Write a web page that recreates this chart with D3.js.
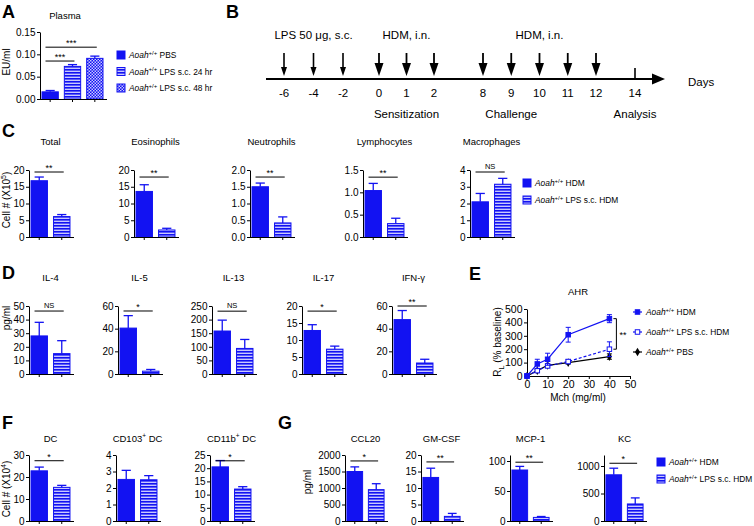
<!DOCTYPE html>
<html><head><meta charset="utf-8">
<script src="https://cdn.jsdelivr.net/npm/d3@7"></script>
<style>
body{margin:0;background:#fff;}
svg{font-family:"Liberation Sans",Arial,sans-serif;}
</style></head><body>
<svg id="fig" width="754" height="526"></svg>
<script>
// ---------------- DATA ----------------
// Panel A (plasma endotoxin)
const aGroups = ["PBS", "LPS s.c. 24 hr", "LPS s.c. 48 hr"];
const aMeans = [0.016, 0.073, 0.091];
const aSems = [0.003, 0.004, 0.005];
const aSigPairs = [[0, 1], [0, 2]];
const aSigLevels = [0.085, 0.116];
const aSigText = ["***", "***"];
const aTicks = [0, 0.05, 0.10, 0.15];

// Panel B (protocol timeline)
const bDays = [-6, -4, -2, 0, 1, 2, 8, 9, 10, 11, 12, 14];
const bLpsDays = [-6, -4, -2];
const bHdmDays = [0, 1, 2, 8, 9, 10, 11, 12];
const bAnalysisDay = 14;
const bTreatLabels = ["LPS 50 \u03bcg, s.c.", "HDM, i.n.", "HDM, i.n."];
const bTreatDays = [-4, 1, 10];
const bPhaseLabels = ["Sensitization", "Challenge", "Analysis"];
const bPhaseDays = [1, 9, 14];

// Panel C (BAL cells, x10^5)
const cCells = ["Total", "Eosinophils", "Neutrophils", "Lymphocytes", "Macrophages"];
const cHdmMean = [16.8, 13.6, 1.50, 1.04, 2.1];
const cHdmSem = [1.1, 2.0, 0.11, 0.16, 0.5];
const cLpsMean = [6.1, 2.1, 0.42, 0.30, 3.15];
const cLpsSem = [0.6, 0.5, 0.18, 0.12, 0.35];
const cSig = ["**", "**", "**", "**", "NS"];
const cSigLevel = [19.4, 17.9, 1.79, 1.34, 3.88];
const cYMax = [20, 20, 2.0, 1.5, 4];
const cYStep = [5, 5, 0.5, 0.5, 1];

// Panel D (cytokines, pg/ml)
const dCytokines = ["IL-4", "IL-5", "IL-13", "IL-17", "IFN-\u03b3"];
const dHdmMean = [28, 40.5, 158, 12.8, 48];
const dHdmSem = [10, 11, 40, 1.7, 8];
const dLpsMean = [15, 2.5, 94, 7.3, 9.7];
const dLpsSem = [9.5, 1.5, 33, 0.9, 3.3];
const dSig = ["NS", "*", "NS", "*", "**"];
const dSigLevel = [46.3, 55.6, 231, 18.5, 60];
const dYMax = [50, 60, 250, 20, 60];
const dYStep = [10, 20, 50, 5, 20];

// Panel E (AHR)
const eDoses = [0, 5, 10, 20, 40];
const eHdm = [0, 90, 125, 308, 428];
const eHdmSem = [0, 35, 45, 55, 30];
const eLps = [0, 40, 75, 108, 200];
const eLpsSem = [0, 10, 12, 15, 55];
const ePbs = [0, 40, 80, 100, 145];
const ePbsSem = [0, 8, 10, 10, 20];
const eXTicks = [0, 10, 20, 30, 40, 50];
const eYTicks = [0, 100, 200, 300, 400, 500];

// Panel F (lung DC, x10^4)
const fCells = ["DC", "CD103", "CD11b"];
const fHdmMean = [22.8, 2.52, 20.5];
const fHdmSem = [1.7, 0.55, 2.4];
const fLpsMean = [15.3, 2.5, 12.1];
const fLpsSem = [0.9, 0.25, 0.9];
const fSig = ["*", "", "*"];
const fSigLevel = [27.4, 0, 22.8];
const fYMax = [30, 4, 25];
const fYStep = [10, 1, 5];

// Panel G (chemokines, pg/ml)
const gCytokines = ["CCL20", "GM-CSF", "MCP-1", "KC"];
const gHdmMean = [1500, 13.2, 85, 840];
const gHdmSem = [140, 2.8, 6, 120];
const gLpsMean = [950, 1.4, 6, 310];
const gLpsSem = [180, 0.9, 1.5, 110];
const gSig = ["*", "**", "**", "*"];
const gSigLevel = [1820, 17.9, 98, 1050];
const gYMax = [2000, 20, 110, 1200];
const gTicks = [[0, 500, 1000, 1500, 2000], [0, 5, 10, 15, 20], [0, 50, 100], [0, 500, 1000]];

// ---------------- STYLE / LAYOUT ----------------
const BLUE = "#1212f2";
const LIGHT = "#c8c8ff";
const LEG = 8.4;
const svg = d3.select("#fig");
const defs = svg.append("defs");
const ps = defs.append("pattern").attr("id", "hstripe").attr("patternUnits", "userSpaceOnUse")
  .attr("width", 6).attr("height", 3);
ps.append("rect").attr("width", 6).attr("height", 3).attr("fill", LIGHT);
ps.append("rect").attr("width", 6).attr("height", 1.6).attr("fill", BLUE);
const pc = defs.append("pattern").attr("id", "checker").attr("patternUnits", "userSpaceOnUse")
  .attr("width", 3).attr("height", 3);
pc.append("rect").attr("width", 3).attr("height", 3).attr("fill", BLUE);
pc.append("rect").attr("width", 1.5).attr("height", 1.5).attr("fill", LIGHT);
pc.append("rect").attr("x", 1.5).attr("y", 1.5).attr("width", 1.5).attr("height", 1.5).attr("fill", LIGHT);

const FILLS = [BLUE, "url(#hstripe)", "url(#checker)"];

function letter(t, x, y) {
  svg.append("text").attr("x", x).attr("y", y).attr("font-size", 18).attr("font-weight", "bold").text(t);
}
function fmtFor(step) {
  return step < 1 ? d3.format(".1f") : d3.format("d");
}
function aoah(sel, rest, size) {
  sel.append("tspan").attr("font-style", "italic").text("Aoah");
  sel.append("tspan").attr("font-size", size * 0.72).attr("dy", -size * 0.4).text("+/+");
  sel.append("tspan").attr("dy", size * 0.4).text(" " + rest);
}
function sigMark(g, x1, x2, yv, txt) {
  if (!txt) return;
  g.append("line").attr("x1", x1).attr("x2", x2).attr("y1", yv).attr("y2", yv)
    .attr("stroke", "#000").attr("stroke-width", 1);
  const isNS = txt === "NS";
  g.append("text").attr("x", (x1 + x2) / 2).attr("y", isNS ? yv - 3 : yv - 1)
    .attr("text-anchor", "middle").attr("font-size", isNS ? 7.5 : 9).text(txt);
}

// generic bar panel
function barPanel(o) {
  const g = svg.append("g");
  const n = o.means.length;
  const x = d3.scaleBand().domain(d3.range(n)).range([o.x0, o.x0 + o.w])
    .paddingInner(0.27).paddingOuter(0.09);
  const y = d3.scaleLinear().domain([0, o.yMax]).range([o.yBot, o.yTop]);
  const bw = x.bandwidth();
  g.selectAll("rect.bar").data(o.means).join("rect").attr("class", "bar")
    .attr("x", (d, i) => x(i)).attr("y", d => y(d))
    .attr("width", bw).attr("height", d => y(0) - y(d))
    .attr("fill", (d, i) => FILLS[i]).attr("stroke", BLUE).attr("stroke-width", 1);
  o.means.forEach((m, i) => {
    const cx = x(i) + bw / 2;
    g.append("line").attr("x1", cx).attr("x2", cx).attr("y1", y(m)).attr("y2", y(m + o.sems[i]))
      .attr("stroke", BLUE).attr("stroke-width", 1.3);
    g.append("line").attr("x1", cx - bw * 0.28).attr("x2", cx + bw * 0.28)
      .attr("y1", y(m + o.sems[i])).attr("y2", y(m + o.sems[i]))
      .attr("stroke", BLUE).attr("stroke-width", 1.3);
  });
  const ya = g.append("g").attr("transform", `translate(${o.x0},0)`)
    .call(d3.axisLeft(y).tickValues(o.ticks).tickFormat(o.fmt).tickSize(3).tickSizeOuter(0).tickPadding(1.5));
  ya.selectAll("text").attr("font-size", 10).attr("font-family", "Liberation Sans, Arial, sans-serif");
  const xa = g.append("g").attr("transform", `translate(0,${o.yBot})`)
    .call(d3.axisBottom(x).tickSize(3).tickSizeOuter(0).tickFormat(""));
  xa.select(".domain").attr("d", `M${o.x0},0.5H${o.x0 + o.w + 2}`);
  if (o.title) {
    const t = g.append("text").attr("x", o.tx !== undefined ? o.tx : o.x0 + o.w / 2)
      .attr("y", o.titleY).attr("text-anchor", "middle").attr("font-size", 9.5);
    o.title(t);
  }
  if (o.sig) {
    o.sig.forEach(s => {
      sigMark(g, x(s.a) + 3.5, x(s.b) + bw * 0.62, y(s.level), s.text);
    });
  }
  return { x, y };
}

function ylabel(x, y, build, size) {
  const t = svg.append("text").attr("transform", `translate(${x},${y}) rotate(-90)`)
    .attr("text-anchor", "middle").attr("font-size", size || 10);
  build(t);
}
function legendBox(x, y, fill, build, size) {
  svg.append("rect").attr("x", x).attr("y", y - 4).attr("width", 8).attr("height", 8)
    .attr("fill", fill).attr("stroke", BLUE).attr("stroke-width", 1);
  const t = svg.append("text").attr("x", x + 12).attr("y", y + 3.2).attr("font-size", size || LEG);
  build(t);
}

// ---------------- PANEL A ----------------
letter("A", 2, 18);
barPanel({
  x0: 40, w: 65, yTop: 32, yBot: 99, yMax: 0.15, ticks: aTicks, fmt: d3.format(".2f"),
  means: aMeans, sems: aSems, titleY: 19, tx: 65,
  title: t => t.text("Plasma"),
  sig: aSigPairs.map((p, i) => ({ a: p[0], b: p[1], level: aSigLevels[i], text: aSigText[i] }))
});
ylabel(10, 62, t => t.text("EU/ml"));
aGroups.forEach((gname, i) => legendBox(117, 55 + i * 16.5, FILLS[i], t => aoah(t, gname, LEG)));

// ---------------- PANEL B ----------------
letter("B", 226, 18);
const tx = d3.scaleLinear().domain([-6, -2, 0, 2, 8, 12, 14]).range([284, 343, 379, 434, 483, 596, 635]);
const gb = svg.append("g");
gb.append("line").attr("x1", 266).attr("x2", 654).attr("y1", 79).attr("y2", 79)
  .attr("stroke", "#000").attr("stroke-width", 2);
gb.append("path").attr("d", "M652,73.5L665,79L652,84.5Z").attr("fill", "#000");
bLpsDays.forEach(d => {
  const xx = tx(d);
  gb.append("line").attr("x1", xx).attr("x2", xx).attr("y1", 53).attr("y2", 70).attr("stroke", "#000").attr("stroke-width", 1.6);
  gb.append("path").attr("d", `M${xx - 3},67L${xx + 3},67L${xx},76Z`).attr("fill", "#000");
});
bHdmDays.forEach(d => {
  const xx = tx(d);
  gb.append("line").attr("x1", xx).attr("x2", xx).attr("y1", 53).attr("y2", 66).attr("stroke", "#000").attr("stroke-width", 1.8);
  gb.append("path").attr("d", `M${xx - 4.5},63L${xx + 4.5},63L${xx},76Z`).attr("fill", "#000");
});
gb.append("line").attr("x1", tx(bAnalysisDay)).attr("x2", tx(bAnalysisDay)).attr("y1", 68).attr("y2", 79)
  .attr("stroke", "#000").attr("stroke-width", 1.6);
bDays.forEach(d => {
  gb.append("text").attr("x", tx(d)).attr("y", 97).attr("text-anchor", "middle").attr("font-size", 11.5).text(d);
});
bTreatLabels.forEach((l, i) => {
  gb.append("text").attr("x", tx(bTreatDays[i])).attr("y", 39).attr("text-anchor", "middle").attr("font-size", 11.5).text(l);
});
bPhaseLabels.forEach((l, i) => {
  gb.append("text").attr("x", tx(bPhaseDays[i])).attr("y", 118).attr("text-anchor", "middle").attr("font-size", 11.5).text(l);
});
gb.append("text").attr("x", 688).attr("y", 86).attr("font-size", 11.5).text("Days");

// ---------------- PANEL C ----------------
letter("C", 2, 137);
const cAxisX = [29, 134, 250, 363, 470];
cCells.forEach((c, i) => {
  const ticks = d3.range(0, cYMax[i] + 1e-9, cYStep[i]);
  barPanel({
    x0: cAxisX[i], w: 43, yTop: 170, yBot: 237, yMax: cYMax[i], ticks, fmt: fmtFor(cYStep[i]),
    means: [cHdmMean[i], cLpsMean[i]], sems: [cHdmSem[i], cLpsSem[i]], titleY: 145,
    title: t => t.text(c),
    sig: [{ a: 0, b: 1, level: cSigLevel[i], text: cSig[i] }]
  });
});
ylabel(10, 200, t => {
  t.append("tspan").text("Cell # (X10");
  t.append("tspan").attr("font-size", 7).attr("dy", -4).text("5");
  t.append("tspan").attr("dy", 4).text(")");
});
legendBox(523, 183, FILLS[0], t => aoah(t, "HDM", LEG));
legendBox(523, 200, FILLS[1], t => aoah(t, "LPS s.c. HDM", LEG));

// ---------------- PANEL D ----------------
letter("D", 2, 279);
const dAxisX = [29, 118, 212, 302, 392];
dCytokines.forEach((c, i) => {
  const ticks = d3.range(0, dYMax[i] + 1e-9, dYStep[i]);
  barPanel({
    x0: dAxisX[i], w: 43, yTop: 306, yBot: 374, yMax: dYMax[i], ticks, fmt: fmtFor(dYStep[i]),
    means: [dHdmMean[i], dLpsMean[i]], sems: [dHdmSem[i], dLpsSem[i]], titleY: 281,
    title: t => t.text(c),
    sig: [{ a: 0, b: 1, level: dSigLevel[i], text: dSig[i] }]
  });
});
ylabel(10, 318, t => t.text("pg/ml"));

// ---------------- PANEL E ----------------
letter("E", 469, 280);
const ge = svg.append("g");
const ex = d3.scaleLinear().domain([0, 50]).range([527, 630]);
const ey = d3.scaleLinear().domain([0, 500]).range([376, 309]);
const eya = ge.append("g").attr("transform", "translate(527,0)")
  .call(d3.axisLeft(ey).tickValues(eYTicks).tickSize(3).tickSizeOuter(0).tickPadding(1.5));
eya.selectAll("text").attr("font-size", 10.5).attr("font-family", "Liberation Sans, Arial, sans-serif");
const exa = ge.append("g").attr("transform", "translate(0,376)")
  .call(d3.axisBottom(ex).tickValues(eXTicks).tickSize(3).tickSizeOuter(0).tickPadding(1.5));
exa.selectAll("text").attr("font-size", 10.5).attr("font-family", "Liberation Sans, Arial, sans-serif");
ge.append("text").attr("x", 578).attr("y", 295).attr("text-anchor", "middle").attr("font-size", 9.5).text("AHR");
ge.append("text").attr("x", 578).attr("y", 401).attr("text-anchor", "middle").attr("font-size", 10).text("Mch (mg/ml)");
ylabel(501, 342, t => {
  t.append("tspan").text("R");
  t.append("tspan").attr("font-size", 7).attr("dy", 3).text("L");
  t.append("tspan").attr("dy", -3).text(" (% baseline)");
});
const eSeries = [
  { vals: ePbs, sems: ePbsSem, color: "#000", dash: null, marker: "diamond", open: false },
  { vals: eLps, sems: eLpsSem, color: BLUE, dash: "3,2", marker: "square", open: true },
  { vals: eHdm, sems: eHdmSem, color: BLUE, dash: null, marker: "square", open: false }
];
function drawMarker(g, x, y, s, size) {
  if (s.marker === "diamond") {
    g.append("path").attr("d", d3.symbol(d3.symbolDiamond, 22)()).attr("transform", `translate(${x},${y})`)
      .attr("fill", s.color);
  } else {
    g.append("rect").attr("x", x - size / 2).attr("y", y - size / 2).attr("width", size).attr("height", size)
      .attr("fill", s.open ? "#fff" : s.color).attr("stroke", s.color).attr("stroke-width", 1);
  }
}
const line = d3.line().x((d, i) => ex(eDoses[i])).y(d => ey(d));
eSeries.forEach(s => {
  ge.append("path").attr("d", line(s.vals)).attr("fill", "none").attr("stroke", s.color)
    .attr("stroke-width", 1.2).attr("stroke-dasharray", s.dash);
  s.vals.forEach((v, i) => {
    const xx = ex(eDoses[i]);
    if (s.sems[i] > 0) {
      ge.append("line").attr("x1", xx).attr("x2", xx).attr("y1", ey(v - s.sems[i])).attr("y2", ey(v + s.sems[i]))
        .attr("stroke", s.color).attr("stroke-width", 1);
      [v - s.sems[i], v + s.sems[i]].forEach(e => ge.append("line").attr("x1", xx - 2.5).attr("x2", xx + 2.5)
        .attr("y1", ey(e)).attr("y2", ey(e)).attr("stroke", s.color).attr("stroke-width", 1));
    }
    drawMarker(ge, xx, ey(v), s, 4.5);
  });
});
const bx = ex(eDoses[4]) + 7;
const by1 = ey(eHdm[4]), by2 = ey(eLps[4]);
ge.append("path").attr("d", `M${bx - 3},${by1}H${bx}V${by2}H${bx - 3}`).attr("fill", "none").attr("stroke", "#000").attr("stroke-width", 1);
ge.append("text").attr("x", bx + 3).attr("y", (by1 + by2) / 2 + 4).attr("font-size", 9).text("**");
const eLeg = [eSeries[2], eSeries[1], eSeries[0]];
const eLegText = ["HDM", "LPS s.c. HDM", "PBS"];
eLeg.forEach((s, i) => {
  const yy = 312 + i * 20;
  ge.append("line").attr("x1", 633).attr("x2", 642).attr("y1", yy).attr("y2", yy).attr("stroke", s.color).attr("stroke-width", 1.2);
  drawMarker(ge, 637.5, yy, s, 4.5);
  const t = ge.append("text").attr("x", 646).attr("y", yy + 3.2).attr("font-size", LEG);
  aoah(t, eLegText[i], LEG);
});

// ---------------- PANEL F ----------------
letter("F", 2, 429);
const fAxisX = [29, 116, 210];
const fTitleBuild = [
  t => t.text("DC"),
  t => { t.append("tspan").text("CD103"); t.append("tspan").attr("font-size", 6.5).attr("dy", -4).text("+"); t.append("tspan").attr("dy", 4).text(" DC"); },
  t => { t.append("tspan").text("CD11b"); t.append("tspan").attr("font-size", 6.5).attr("dy", -4).text("+"); t.append("tspan").attr("dy", 4).text(" DC"); }
];
fCells.forEach((c, i) => {
  const ticks = d3.range(0, fYMax[i] + 1e-9, fYStep[i]);
  barPanel({
    x0: fAxisX[i], w: 43, yTop: 455, yBot: 521, yMax: fYMax[i], ticks, fmt: fmtFor(fYStep[i]),
    means: [fHdmMean[i], fLpsMean[i]], sems: [fHdmSem[i], fLpsSem[i]], titleY: 442,
    title: fTitleBuild[i],
    sig: fSig[i] ? [{ a: 0, b: 1, level: fSigLevel[i], text: fSig[i] }] : null
  });
});
ylabel(10, 489, t => {
  t.append("tspan").text("Cell # (X10");
  t.append("tspan").attr("font-size", 7).attr("dy", -4).text("4");
  t.append("tspan").attr("dy", 4).text(")");
});

// ---------------- PANEL G ----------------
letter("G", 278, 429);
const gAxisX = [345, 421, 510, 604];
gCytokines.forEach((c, i) => {
  barPanel({
    x0: gAxisX[i], w: 41, yTop: 455, yBot: 521, yMax: gYMax[i], ticks: gTicks[i], fmt: d3.format("d"),
    means: [gHdmMean[i], gLpsMean[i]], sems: [gHdmSem[i], gLpsSem[i]], titleY: 442,
    title: t => t.text(c),
    sig: [{ a: 0, b: 1, level: gSigLevel[i], text: gSig[i] }]
  });
});
ylabel(311, 482, t => t.text("pg/ml"));
legendBox(657, 462, FILLS[0], t => aoah(t, "HDM", LEG));
legendBox(657, 479, FILLS[1], t => aoah(t, "LPS s.c. HDM", LEG));
</script>
</body></html>
